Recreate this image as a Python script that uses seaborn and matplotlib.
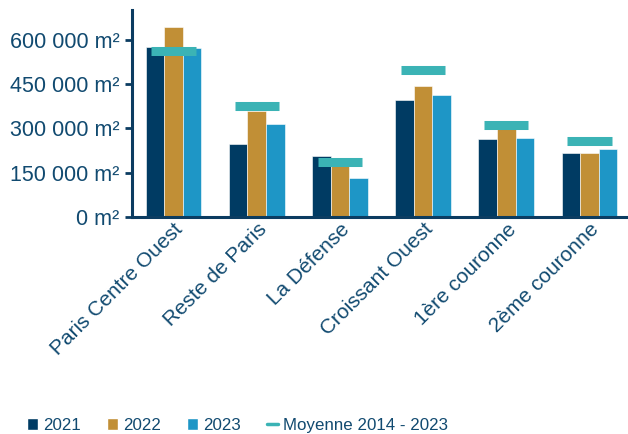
import matplotlib
matplotlib.use("Agg")
import matplotlib.pyplot as plt
import seaborn as sns
import pandas as pd
from matplotlib.patches import Patch
from matplotlib.lines import Line2D
from matplotlib.ticker import FixedLocator, FuncFormatter

categories = ["Paris Centre Ouest", "Reste de Paris", "La Défense",
              "Croissant Ouest", "1ère couronne", "2ème couronne"]
years = ["2021", "2022", "2023"]
v2021 = [574000, 248000, 207000, 397000, 265000, 216000]
v2022 = [641000, 360000, 175000, 442000, 296000, 216000]
v2023 = [573000, 315000, 132000, 412000, 266000, 230000]
moyenne = [560000, 374000, 186000, 498000, 312000, 257000]
yticks = [0, 150000, 300000, 450000, 600000]

colors = ["#003B63", "#C18F36", "#1E96C6"]
avg_color = "#3BB3B5"
text_color = "#114A70"
axis_color = "#0B3C61"

df = pd.DataFrame({
    "cat": categories * 3,
    "year": [y for y in years for _ in categories],
    "val": v2021 + v2022 + v2023,
})

sns.set_style("white")
plt.rcParams["font.family"] = ["Liberation Sans", "DejaVu Sans"]

fig = plt.figure(figsize=(6.28, 4.34), dpi=100)
ax = fig.add_axes([0.21, 0.5, 0.795, 0.477])

sns.barplot(data=df, x="cat", y="val", hue="year", palette=colors, saturation=1,
            width=0.67, ax=ax, legend=False, edgecolor="white", linewidth=0.4)

xs = list(range(len(categories)))
ax.hlines(moyenne, [x - 0.265 for x in xs], [x + 0.265 for x in xs],
          colors=avg_color, linewidth=6.5, zorder=5)

ax.set_ylim(0, 700000)
ax.set_xlim(-0.5, len(categories) - 0.5)
ax.set_yticks(yticks)
ax.yaxis.set_major_formatter(FuncFormatter(lambda v, p: f"{int(v):,}".replace(",", " ") + " m²"))
ax.set_xticks(xs)
ax.set_xticklabels(categories, rotation=45, ha="right", rotation_mode="anchor")
ax.xaxis.set_minor_locator(FixedLocator([x - 0.5 for x in range(len(categories) + 1)]))
ax.tick_params(axis="x", which="major", length=0, pad=2, labelsize=15, labelcolor=text_color)
ax.tick_params(axis="x", which="minor", length=5, width=2, color=axis_color, direction="out")
ax.tick_params(axis="y", length=5, width=2, color=axis_color, labelsize=15.5,
               labelcolor=text_color, pad=4, direction="out", left=True)
ax.set_xlabel("")
ax.set_ylabel("")

for s in ["top", "right"]:
    ax.spines[s].set_visible(False)
for s in ["left", "bottom"]:
    ax.spines[s].set_color(axis_color)
    ax.spines[s].set_linewidth(2.2)

handles = [Patch(facecolor=c, label=y) for c, y in zip(colors, years)]
handles.append(Line2D([0], [0], color=avg_color, lw=2.5, label="Moyenne 2014 - 2023"))
fig.legend(handles=handles, loc="center", bbox_to_anchor=(0.378, 0.02), ncol=4,
           frameon=False, fontsize=12.2, labelcolor=text_color,
           handlelength=0.65, handleheight=0.65, handletextpad=0.3, columnspacing=1.55)

fig.savefig("out.png", dpi=100)
